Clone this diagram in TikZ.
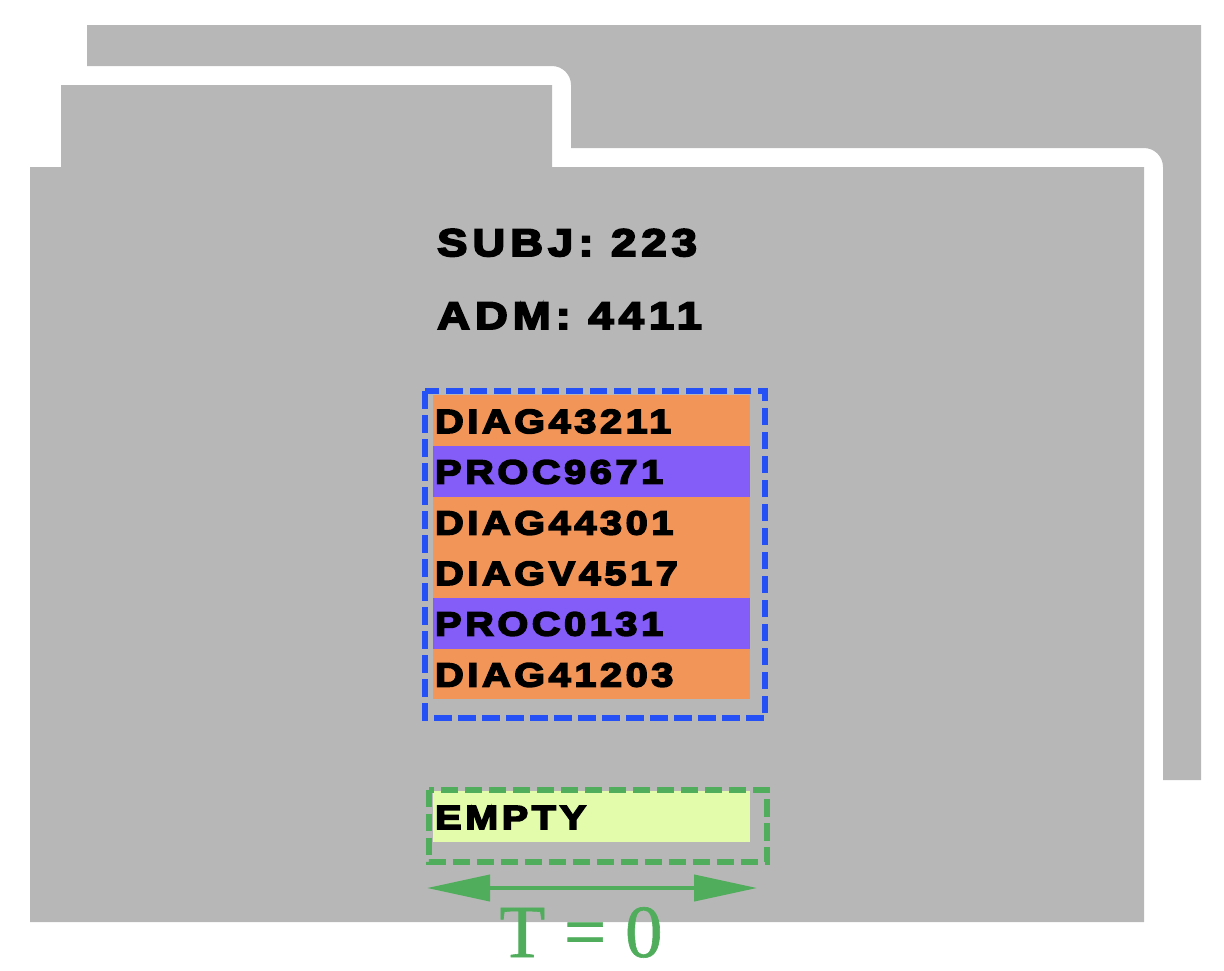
\documentclass[tikz,border=0pt]{standalone}
\usepackage{fontspec}
\usetikzlibrary{arrows.meta}
\newfontfamily\codefont[FakeBold=5,FakeStretch=1.18,LetterSpace=11]{Liberation Sans Bold}
\newfontfamily\headfont[FakeBold=5,FakeStretch=1.18,LetterSpace=13]{Liberation Sans Bold}
\newfontfamily\timefont[FakeBold=0.8]{Liberation Serif}
\definecolor{foldergray}{HTML}{B7B7B7}
\definecolor{diagorange}{HTML}{F29559}
\definecolor{procpurple}{HTML}{845CF8}
\definecolor{emptylime}{HTML}{E3FCAB}
\definecolor{groupblue}{HTML}{2450F5}
\definecolor{timegreen}{HTML}{4FAD5B}
\tikzset{
  rowbox/.style={anchor=north west,inner sep=0pt,minimum width=317pt,minimum height=50.7pt},
  code/.style={anchor=base west,inner sep=0pt,font=\codefont\fontsize{33.5}{33.5}\selectfont,text=black},
  head/.style={anchor=base west,inner sep=0pt,font=\headfont\fontsize{38.5}{38.5}\selectfont,text=black},
  dashbox/.style={line width=6pt,dash pattern=on 17.5pt off 6.5pt},
  span/.style={draw=timegreen,line width=4pt,{Triangle[length=63pt,width=26pt]}-{Triangle[length=63pt,width=26pt]}}
}
\begin{document}
\begin{tikzpicture}[x=1pt,y=-1pt]
\useasboundingbox (0,0) rectangle (1224,970);
% folder sheets, back one first
\fill[foldergray] (87,25) -- (1201,25) -- (1201,780) -- (1163,780) -- (1163,167)
  arc[start angle=0,end angle=-90,radius=19] -- (571,148) -- (571,85)
  arc[start angle=0,end angle=-90,radius=19] -- (87,66) -- cycle;
\fill[foldergray] (30,167) -- (61,167) -- (61,85) -- (552,85) -- (552,167)
  -- (1144,167) -- (1144,922) -- (30,922) -- cycle;
% header lines
\node[head] (subj) at (437,256) {SUBJ: 223};
\node[head] (adm) at (437,329) {ADM: 4411};
% code rows
\node[rowbox,fill=diagorange] (r1) at (433,395) {};
\node[rowbox,fill=procpurple] (r2) at (433,445.7) {};
\node[rowbox,fill=diagorange] (r3) at (433,496.4) {};
\node[rowbox,fill=diagorange] (r4) at (433,547.1) {};
\node[rowbox,fill=procpurple] (r5) at (433,597.8) {};
\node[rowbox,fill=diagorange] (r6) at (433,648.5) {};
\node[code] (c1) at (435,433) {DIAG43211};
\node[code] (c2) at (435,483.5) {PROC9671};
\node[code] (c3) at (435,534.5) {DIAG44301};
\node[code] (c4) at (435,585) {DIAGV4517};
\node[code] (c5) at (435,635.5) {PROC0131};
\node[code] (c6) at (435,686.5) {DIAG41203};
\draw[groupblue,dashbox] (425,391) rectangle (765,718);
% empty slot
\node[rowbox,fill=emptylime] (r7) at (433,791) {};
\node[code] (c7) at (435,829) {EMPTY};
\draw[timegreen,dashbox] (429,789.5) rectangle (767,862);
% time span
\coordinate (tl) at (427,888);
\coordinate (tr) at (757,888);
\draw[span] (tl) -- (tr);
\node[anchor=base,inner sep=0pt,text=timegreen,font=\timefont\fontsize{75}{75}\selectfont] (t0) at (581,957) {T = 0};
\end{tikzpicture}
\end{document}
